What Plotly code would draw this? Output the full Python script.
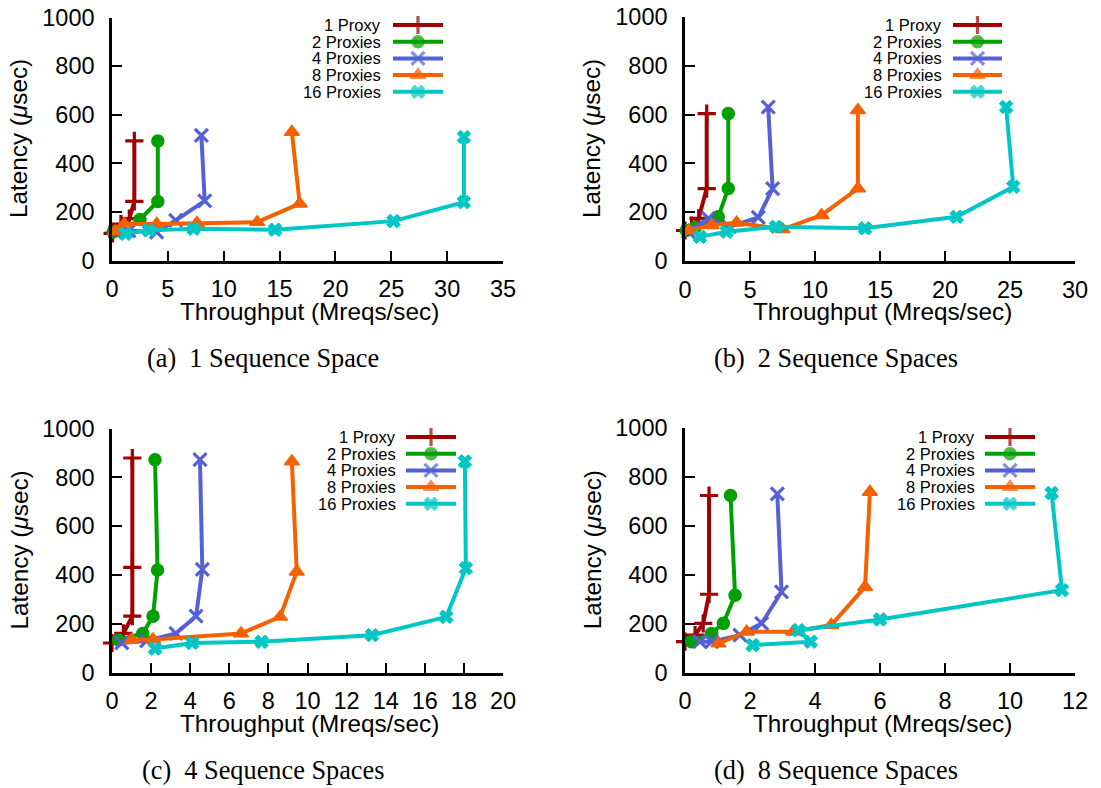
import plotly.graph_objects as go

# the page body adds an 8px margin; the figure is sized to fill the rest
W, H = 1101, 788
OFF = 8
FW, FH = W - OFF, H - OFF

SERIES = ["1 Proxy", "2 Proxies", "4 Proxies", "8 Proxies", "16 Proxies"]
COLORS = ["#a00000", "#00a000", "#5560d5", "#f56000", "#00c6c6"]
SYMBOLS = ["cross-thin", "circle", "x-thin", "triangle-up", "x"]
MSIZES = [13, 12, 13, 13, 12]
MLINES = [3.2, 1.5, 3.2, 1.5, 1.0]

CAPTIONS = ["(a)\u00a0\u00a01 Sequence Space", "(b)\u00a0\u00a02 Sequence Spaces",
            "(c)\u00a0\u00a04 Sequence Spaces", "(d)\u00a0\u00a08 Sequence Spaces"]
XMAX = [35, 30, 20, 12]
XDTICK = [5, 5, 2, 2]
YMAX = 1000
YDTICK = 200

# ---- data: throughput (Mreqs/sec) and latency (usec) ----
# (a) 1 Sequence Space
a_1_x = [0.05, 0.8, 1.55, 2.0, 2.0]
a_1_y = [112, 150, 172, 243, 492]
a_2_x = [0.1, 1.2, 2.5, 4.1, 4.1]
a_2_y = [117, 128, 169, 243, 492]
a_4_x = [0.3, 1.5, 4.0, 5.7, 8.3, 8.0]
a_4_y = [118, 122, 117, 165, 245, 515]
a_8_x = [0.3, 1.1, 4.0, 7.6, 13.0, 16.8, 16.1]
a_8_y = [120, 150, 150, 154, 158, 234, 529]
a_16_x = [1.2, 3.3, 7.3, 14.6, 25.2, 31.5, 31.5]
a_16_y = [110, 124, 131, 127, 162, 240, 508]

# (b) 2 Sequence Spaces
b_1_x = [0.0, 0.5, 1.05, 1.67, 1.67]
b_1_y = [125, 145, 175, 297, 604]
b_2_x = [0.1, 0.8, 2.56, 3.33, 3.33]
b_2_y = [125, 138, 181, 297, 604]
b_4_x = [0.25, 1.8, 3.4, 5.64, 6.74, 6.4]
b_4_y = [120, 175, 140, 179, 297, 631]
b_8_x = [0.3, 2.05, 3.97, 7.5, 10.5, 13.3, 13.3]
b_8_y = [125, 147, 157, 130, 188, 297, 618]
b_16_x = [1.15, 3.2, 7.0, 13.85, 20.9, 25.25, 24.7]
b_16_y = [99, 120, 140, 134, 181, 304, 631]

# (c) 4 Sequence Spaces
c_1_x = [0.0, 0.58, 1.04, 1.04, 1.04]
c_1_y = [121, 160, 231, 431, 879]
c_2_x = [0.33, 1.57, 2.1, 2.33, 2.2]
c_2_y = [133, 160, 231, 420, 872]
c_4_x = [0.5, 1.77, 3.27, 4.3, 4.62, 4.5]
c_4_y = [121, 130, 160, 231, 423, 872]
c_8_x = [1.0, 2.1, 6.6, 8.6, 9.45, 9.2]
c_8_y = [133, 135, 160, 228, 413, 865]
c_16_x = [2.2, 4.1, 7.65, 13.3, 17.1, 18.1, 18.05]
c_16_y = [98, 121, 126, 153, 228, 427, 865]

# (d) 8 Sequence Spaces
d_1_x = [0.0, 0.31, 0.56, 0.74, 0.74]
d_1_y = [126, 153, 201, 320, 724]
d_2_x = [0.2, 0.82, 1.18, 1.54, 1.4]
d_2_y = [126, 160, 201, 316, 724]
d_4_x = [0.46, 0.82, 1.69, 2.36, 2.97, 2.84]
d_4_y = [126, 126, 153, 201, 330, 731]
d_8_x = [1.03, 1.9, 3.33, 4.5, 5.54, 5.69]
d_8_y = [119, 167, 167, 194, 350, 738]
d_16_x = [2.08, 3.87, 3.49, 6.0, 11.6, 11.28]
d_16_y = [112, 126, 173, 217, 337, 734]

PANELS = [
    [(a_1_x, a_1_y), (a_2_x, a_2_y), (a_4_x, a_4_y), (a_8_x, a_8_y), (a_16_x, a_16_y)],
    [(b_1_x, b_1_y), (b_2_x, b_2_y), (b_4_x, b_4_y), (b_8_x, b_8_y), (b_16_x, b_16_y)],
    [(c_1_x, c_1_y), (c_2_x, c_2_y), (c_4_x, c_4_y), (c_8_x, c_8_y), (c_16_x, c_16_y)],
    [(d_1_x, d_1_y), (d_2_x, d_2_y), (d_4_x, d_4_y), (d_8_x, d_8_y), (d_16_x, d_16_y)],
]

# ---- layout geometry (page pixels) ----
# plot boxes: (left, right, top, bottom)
BOXES = [(112, 503, 17.5, 260.5), (685, 1075, 17, 261),
         (112, 503, 428.5, 672.5), (685, 1075, 428, 672.5)]
# legend: text right edge, line start, line end, first row y, row step
LEGENDS = [(383, 393, 443, 25, 16.7), (944, 953, 1002, 25, 16.7),
           (398, 406, 456, 437, 16.7), (977, 985, 1035, 437, 16.7)]

SANS = "Liberation Sans, Arial, Helvetica, sans-serif"
SERIF = "Liberation Serif, Times New Roman, serif"


def px(x):
    return (x - OFF) / FW


def py(y):
    return 1 - (y - OFF) / FH


fig = go.Figure()
layout = {}
annotations = []

for i in range(4):
    l, r, t, b = BOXES[i]
    n = i + 1
    xa = "xaxis" if n == 1 else f"xaxis{n}"
    ya = "yaxis" if n == 1 else f"yaxis{n}"
    xr = "x" if n == 1 else f"x{n}"
    yr = "y" if n == 1 else f"y{n}"
    common = dict(showline=True, linecolor="black", linewidth=2.5, ticks="inside",
                  ticklen=10, tickwidth=2, tickcolor="black", showgrid=False,
                  zeroline=False, automargin=False, ticklabeloverflow="allow",
                  tickfont=dict(family=SANS, size=23.5, color="black"))
    layout[xa] = dict(domain=[px(l), px(r)], anchor=yr, range=[0, XMAX[i]],
                      dtick=XDTICK[i], tick0=0, ticklabelstandoff=6, **common)
    layout[ya] = dict(domain=[py(b), py(t)], anchor=xr, range=[0, YMAX],
                      dtick=YDTICK, tick0=0, ticklabelstandoff=10, **common)
    for s in range(5):
        xs, ys = PANELS[i][s]
        fig.add_trace(go.Scatter(
            x=xs, y=ys, mode="lines+markers", xaxis=xr, yaxis=yr,
            line=dict(color=COLORS[s], width=4),
            marker=dict(symbol=SYMBOLS[s], size=MSIZES[s], color=COLORS[s],
                        line=dict(color=COLORS[s], width=MLINES[s])),
            showlegend=False, cliponaxis=False, name=SERIES[s]))
    # axis titles
    annotations.append(dict(text="Throughput (Mreqs/sec)", x=px(l + 197), y=py(b + 51),
                            xref="paper", yref="paper", showarrow=False,
                            font=dict(family=SANS, size=24.3, color="black"),
                            xanchor="center", yanchor="middle"))
    annotations.append(dict(text="Latency (<i>\u03bc</i>sec)", x=px(l - 93), y=py((t + b) / 2),
                            xref="paper", yref="paper", showarrow=False, textangle=-90,
                            font=dict(family=SANS, size=24.3, color="black"),
                            xanchor="center", yanchor="middle"))
    # caption
    annotations.append(dict(text=CAPTIONS[i], x=px(l + 151), y=py(b + 98),
                            xref="paper", yref="paper", showarrow=False,
                            font=dict(family=SERIF, size=26.3, color="black"),
                            xanchor="center", yanchor="middle"))
    # legend (text right-aligned, key on the right)
    tr, lx0, lx1, ly0, dy = LEGENDS[i]
    for s in range(5):
        yy = ly0 + s * dy
        annotations.append(dict(text=SERIES[s], x=px(tr), y=py(yy), xref="paper",
                                yref="paper", showarrow=False, xanchor="right",
                                yanchor="middle",
                                font=dict(family=SANS, size=16.5, color="black")))
        fig.add_trace(go.Scatter(
            x=[lx0, (lx0 + lx1) / 2, lx1], y=[yy, yy, yy], mode="lines+markers",
            xaxis="x5", yaxis="y5", line=dict(color=COLORS[s], width=4),
            marker=dict(symbol=SYMBOLS[s], size=[0, MSIZES[s], 0], color=COLORS[s],
                        line=dict(color=COLORS[s], width=MLINES[s])),
            showlegend=False, hoverinfo="skip", cliponaxis=False))

layout["xaxis5"] = dict(domain=[0, 1], anchor="y5", range=[OFF, W], visible=False,
                        fixedrange=True)
layout["yaxis5"] = dict(domain=[0, 1], anchor="x5", range=[H, OFF], visible=False,
                        fixedrange=True)

fig.update_layout(width=FW, height=FH,
                  margin=dict(l=0, r=0, t=0, b=0, pad=0, autoexpand=False),
                  paper_bgcolor="white", plot_bgcolor="rgba(0,0,0,0)",
                  annotations=annotations, showlegend=False, **layout)

fig.write_html("out.html")
